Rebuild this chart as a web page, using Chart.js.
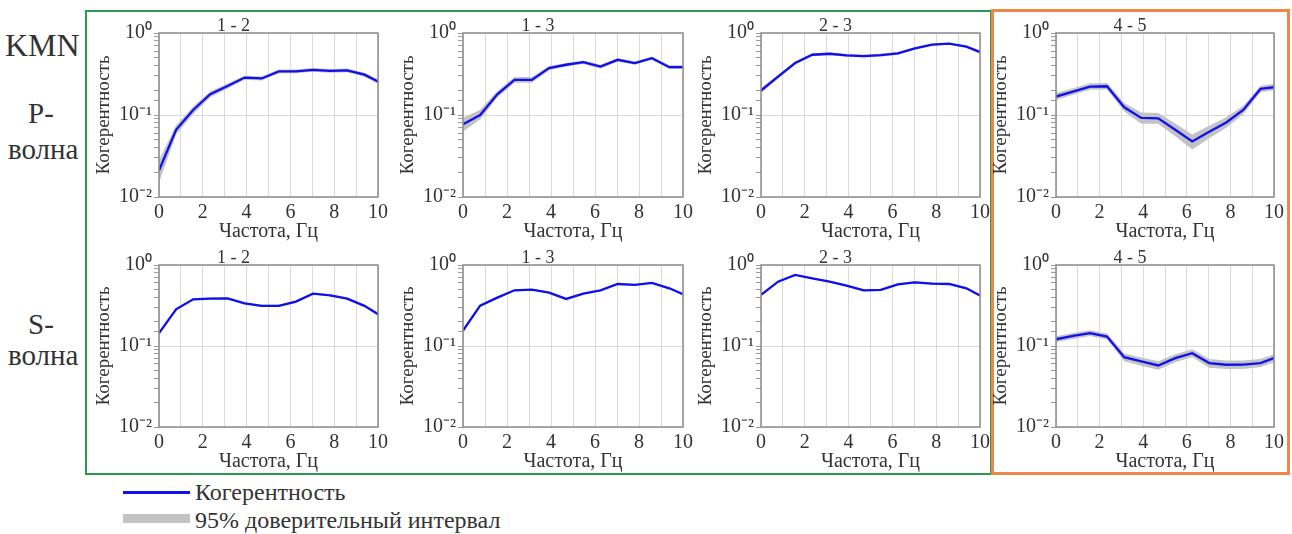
<!DOCTYPE html>
<html lang="ru">
<head>
<meta charset="UTF-8">
<title>Когерентность KMN</title>
<script src="https://cdn.jsdelivr.net/npm/chart.js"></script>
<style>
    body {
        margin: 0;
        width: 1292px;
        height: 534px;
        position: relative;
        overflow: hidden;
        background: #fff;
        font-family: "Liberation Serif", "Times New Roman", serif;
        color: #333;
    }
    .lbl { position: absolute; white-space: nowrap; line-height: 1; }
    .frame { position: absolute; box-sizing: border-box; }
    canvas { position: absolute; }
</style>
</head>
<body>

<div class="frame" style="left:85px; top:10px; width:907px; height:465px; border:2.5px solid #2b9a50;"></div>
<div class="frame" style="left:991px; top:9px; width:299px; height:466px; border:3px solid #f0874a;"></div>

<div class="lbl" style="left:5px; top:29px; font-size:32px;">KMN</div>
<div class="lbl" style="left:28px; top:99px; font-size:29px;">P-</div>
<div class="lbl" style="left:8px; top:135px; font-size:29px;">волна</div>
<div class="lbl" style="left:28px; top:310px; font-size:29px;">S-</div>
<div class="lbl" style="left:8px; top:341px; font-size:29px;">волна</div>

<div style="position:absolute; left:123px; top:491px; width:67px; height:3px; background:#1010ee;"></div>
<div class="lbl" style="left:195px; top:480px; font-size:24px;">Когерентность</div>
<div style="position:absolute; left:123px; top:514px; width:67px; height:9px; background:#c3c3c3;"></div>
<div class="lbl" style="left:195px; top:508px; font-size:24px;">95% доверительный интервал</div>

<script>
// частоты, Гц
const freqs = [0, 0.78, 1.56, 2.34, 3.13, 3.91, 4.69, 5.47, 6.25, 7.03, 7.81, 8.59, 9.38, 10];

// P-волна
const pCoh12 = [0.021, 0.066, 0.115, 0.179, 0.226, 0.286, 0.279, 0.34, 0.34, 0.356, 0.345, 0.35, 0.31, 0.256];
const pLow12 = [0.015, 0.058, 0.103, 0.165, 0.21, 0.27, 0.263, 0.322, 0.322, 0.338, 0.327, 0.332, 0.292, 0.24];
const pUp12  = [0.028, 0.075, 0.127, 0.193, 0.242, 0.302, 0.295, 0.358, 0.358, 0.374, 0.363, 0.368, 0.328, 0.272];

const pCoh13 = [0.077, 0.1, 0.179, 0.268, 0.268, 0.373, 0.41, 0.441, 0.39, 0.471, 0.43, 0.494, 0.383, 0.383];
const pLow13 = [0.063, 0.088, 0.163, 0.248, 0.248, 0.352, 0.39, 0.42, 0.37, 0.45, 0.41, 0.472, 0.363, 0.363];
const pUp13  = [0.092, 0.116, 0.196, 0.29, 0.29, 0.395, 0.43, 0.462, 0.41, 0.492, 0.45, 0.516, 0.403, 0.403];

const pCoh23 = [0.199, 0.294, 0.43, 0.543, 0.558, 0.533, 0.523, 0.537, 0.564, 0.649, 0.72, 0.74, 0.68, 0.585];
const pLow23 = [0.185, 0.278, 0.412, 0.522, 0.537, 0.512, 0.502, 0.516, 0.543, 0.628, 0.699, 0.719, 0.659, 0.564];
const pUp23  = [0.213, 0.31, 0.448, 0.564, 0.579, 0.554, 0.544, 0.558, 0.585, 0.67, 0.741, 0.761, 0.701, 0.606];

const pCoh45 = [0.168, 0.193, 0.222, 0.224, 0.124, 0.092, 0.091, 0.066, 0.0476, 0.0625, 0.081, 0.115, 0.208, 0.218];
const pLow45 = [0.152, 0.176, 0.203, 0.205, 0.11, 0.078, 0.078, 0.055, 0.038, 0.052, 0.07, 0.102, 0.19, 0.2];
const pUp45  = [0.186, 0.212, 0.244, 0.246, 0.14, 0.107, 0.106, 0.079, 0.058, 0.074, 0.094, 0.13, 0.228, 0.238];

// S-волна
const sCoh12 = [0.144, 0.284, 0.377, 0.385, 0.388, 0.337, 0.313, 0.313, 0.353, 0.443, 0.423, 0.385, 0.313, 0.247];
const sLow12 = [0.136, 0.274, 0.366, 0.374, 0.377, 0.327, 0.303, 0.303, 0.342, 0.431, 0.411, 0.374, 0.303, 0.238];
const sUp12  = [0.152, 0.294, 0.388, 0.396, 0.399, 0.347, 0.323, 0.323, 0.364, 0.455, 0.435, 0.396, 0.323, 0.256];

const sCoh13 = [0.155, 0.315, 0.396, 0.487, 0.497, 0.456, 0.381, 0.443, 0.487, 0.583, 0.567, 0.6, 0.516, 0.435];
const sLow13 = [0.146, 0.304, 0.384, 0.474, 0.484, 0.444, 0.37, 0.431, 0.474, 0.569, 0.553, 0.586, 0.503, 0.423];
const sUp13  = [0.164, 0.326, 0.408, 0.5, 0.51, 0.468, 0.392, 0.455, 0.5, 0.597, 0.581, 0.614, 0.529, 0.447];

const sCoh23 = [0.427, 0.623, 0.753, 0.685, 0.623, 0.556, 0.487, 0.492, 0.578, 0.611, 0.589, 0.583, 0.516, 0.419];
const sLow23 = [0.412, 0.606, 0.735, 0.668, 0.606, 0.54, 0.472, 0.477, 0.562, 0.594, 0.572, 0.566, 0.5, 0.404];
const sUp23  = [0.442, 0.64, 0.771, 0.702, 0.64, 0.572, 0.502, 0.507, 0.594, 0.628, 0.606, 0.6, 0.532, 0.434];

const sCoh45 = [0.121, 0.133, 0.144, 0.131, 0.0728, 0.0644, 0.0575, 0.0708, 0.0816, 0.0615, 0.0587, 0.059, 0.0615, 0.0708];
const sLow45 = [0.111, 0.122, 0.133, 0.12, 0.065, 0.057, 0.051, 0.063, 0.073, 0.054, 0.052, 0.052, 0.055, 0.063];
const sUp45  = [0.132, 0.145, 0.156, 0.143, 0.081, 0.072, 0.065, 0.079, 0.091, 0.069, 0.066, 0.066, 0.069, 0.079];

const yTickLabels = { 1: '10⁰', 0.1: '10⁻¹', 0.01: '10⁻²' };
const xTickLabels = [0, 2, 4, 6, 8, 10];

const FONT = "'Liberation Serif', serif";
const TXT = '#333';

// plot area positions on the page
const panels = [
    { title: '1 - 2', coh: pCoh12, low: pLow12, up: pUp12, x: 159, y: 33, w: 219, h: 164 },
    { title: '1 - 3', coh: pCoh13, low: pLow13, up: pUp13, x: 463, y: 33, w: 220, h: 164 },
    { title: '2 - 3', coh: pCoh23, low: pLow23, up: pUp23, x: 761, y: 33, w: 219, h: 164 },
    { title: '4 - 5', coh: pCoh45, low: pLow45, up: pUp45, x: 1056, y: 33, w: 218, h: 164 },
    { title: '1 - 2', coh: sCoh12, low: sLow12, up: sUp12, x: 159, y: 265, w: 219, h: 162 },
    { title: '1 - 3', coh: sCoh13, low: sLow13, up: sUp13, x: 463, y: 265, w: 220, h: 162 },
    { title: '2 - 3', coh: sCoh23, low: sLow23, up: sUp23, x: 761, y: 265, w: 219, h: 162 },
    { title: '4 - 5', coh: sCoh45, low: sLow45, up: sUp45, x: 1056, y: 265, w: 218, h: 162 }
];

const PAD_L = 70, PAD_T = 34, PAD_R = 16, PAD_B = 50;

// frame around the plot area
const boxPlugin = {
    id: 'box',
    afterDraw(chart) {
        const a = chart.chartArea, c = chart.ctx;
        c.save();
        c.strokeStyle = '#8c8c8c';
        c.lineWidth = 1.5;
        c.strokeRect(a.left, a.top, a.right - a.left, a.bottom - a.top);
        c.restore();
    }
};

function pts(arr) {
    return freqs.map((f, i) => ({ x: f, y: arr[i] }));
}

function drawAll() {
    panels.forEach(p => {
        const cv = document.createElement('canvas');
        const W = p.w + PAD_L + PAD_R, H = p.h + PAD_T + PAD_B;
        cv.width = W;
        cv.height = H;
        cv.style.left = (p.x - PAD_L) + 'px';
        cv.style.top = (p.y - PAD_T) + 'px';
        document.body.appendChild(cv);

        new Chart(cv.getContext('2d'), {
            type: 'line',
            data: {
                datasets: [
                    { data: pts(p.up), order: 2, borderWidth: 0, pointRadius: 0, fill: false, borderColor: 'rgba(0,0,0,0)' },
                    { data: pts(p.low), order: 1, borderWidth: 0, pointRadius: 0, fill: '-1', backgroundColor: '#c3c3c3', borderColor: 'rgba(0,0,0,0)' },
                    { data: pts(p.coh), order: 0, borderWidth: 2.3, pointRadius: 0, borderColor: '#1010ee', fill: false }
                ]
            },
            options: {
                responsive: false,
                animation: false,
                layout: { padding: { top: 0.4, left: 0, right: PAD_R, bottom: 0 } },
                plugins: {
                    legend: { display: false },
                    tooltip: { enabled: false },
                    title: {
                        display: true,
                        text: p.title,
                        color: TXT,
                        font: { family: FONT, size: 18, weight: 'normal', lineHeight: 0.8 },
                        padding: { top: 19.2, bottom: 0 }
                    }
                },
                scales: {
                    x: {
                        type: 'linear',
                        min: 0,
                        max: 10,
                        afterFit(s) { s.height = PAD_B; },
                        ticks: {
                            stepSize: 1,
                            autoSkip: false,
                            maxRotation: 0,
                            padding: 4,
                            color: TXT,
                            font: { family: FONT, size: 20 },
                            callback: v => xTickLabels.includes(v) ? String(v) : ''
                        },
                        grid: { color: '#dadada', lineWidth: 1, drawTicks: false },
                        border: { display: false },
                        title: {
                            display: true,
                            text: 'Частота, Гц',
                            color: TXT,
                            font: { family: FONT, size: 20, lineHeight: 1.2 },
                            padding: { top: 0, bottom: 3 }
                        }
                    },
                    y: {
                        type: 'logarithmic',
                        min: 0.01,
                        max: 1,
                        afterFit(s) { s.width = PAD_L; },
                        ticks: {
                            autoSkip: false,
                            padding: 2,
                            color: TXT,
                            font: { family: FONT, size: 20 },
                            callback: v => yTickLabels[v] || ''
                        },
                        grid: {
                            color: ctx => (ctx.tick && yTickLabels[ctx.tick.value]) ? '#dadada' : 'rgba(0,0,0,0)',
                            tickColor: '#9a9a9a',
                            tickLength: 5,
                            drawTicks: true
                        },
                        border: { display: false },
                        title: {
                            display: true,
                            text: 'Когерентность',
                            color: TXT,
                            font: { family: FONT, size: 19, lineHeight: 1.2 },
                            padding: { top: 4, bottom: 0 }
                        }
                    }
                }
            },
            plugins: [boxPlugin]
        });
    });
}

if (document.fonts && document.fonts.load) {
    document.fonts.load("20px 'Liberation Serif'", 'Когерентность 0123').then(drawAll, drawAll);
} else {
    drawAll();
}
</script>
</body>
</html>
